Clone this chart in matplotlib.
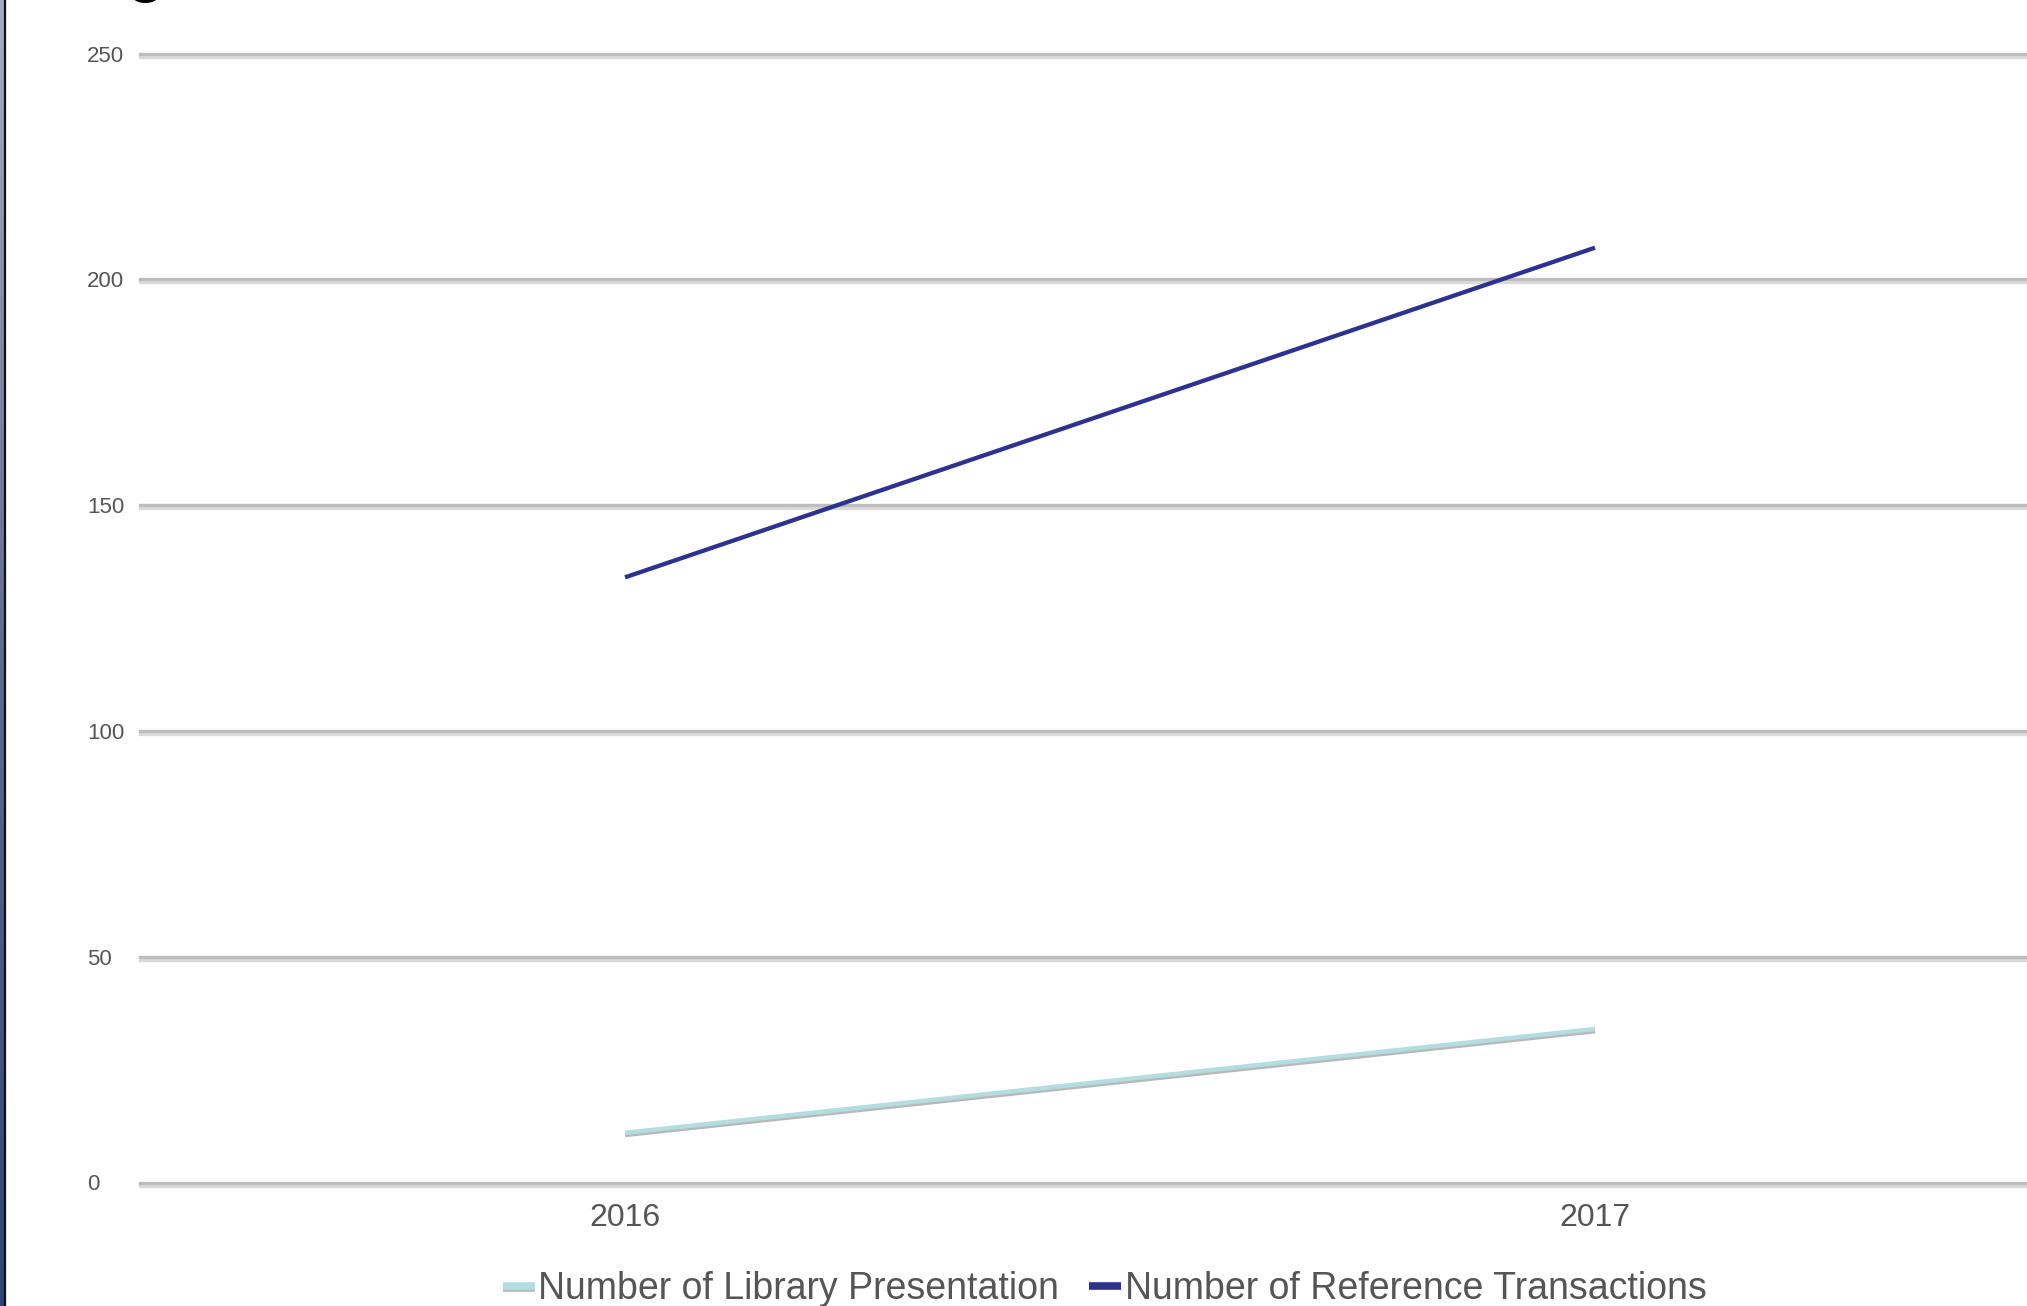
import numpy as np
import matplotlib
matplotlib.use("Agg")
import matplotlib.pyplot as plt
import matplotlib.patheffects as pe
from matplotlib.colors import LinearSegmentedColormap

plt.rcParams['font.family'] = ['Liberation Sans', 'DejaVu Sans']

# ---- data ----
years = ['2016', '2017']
library_presentations = [11, 34]
reference_transactions = [134, 207]
y_ticks = [0, 50, 100, 150, 200, 250]

W, H = 2027, 1306
DPI = 100
fig = plt.figure(figsize=(W / DPI, H / DPI), dpi=DPI, facecolor='white')

# plot area runs past the right edge (the reference is cropped)
ax = fig.add_axes([140 / W, 1 - 1182.5 / H, 1940 / W, (1182.5 - 53.5) / H])
x = np.arange(len(years))

shadow = [pe.SimpleLineShadow(offset=(0, -1.6), shadow_color='#9a9a9a', alpha=0.7), pe.Normal()]
ax.plot(x, library_presentations, color='#b3dde1', lw=3.2, solid_capstyle='butt',
        path_effects=shadow, label='Number of Library Presentation', zorder=3)
ax.plot(x, reference_transactions, color='#2f3191', lw=3.1, solid_capstyle='butt',
        label='Number of Reference Transactions', zorder=4)

ax.set_xlim(-0.5, 1.5)
ax.set_ylim(0, 250)
ax.set_xticks(x)
ax.set_xticklabels(years, fontsize=23, color='#555555')
ax.set_yticks(y_ticks)
ax.set_yticklabels([str(v) for v in y_ticks], fontsize=16, color='#555555')
for lab in ax.get_yticklabels():
    lab.set_ha('left')
ax.tick_params(axis='y', length=0, pad=38)
ax.tick_params(axis='x', length=0, pad=15)

for s in ax.spines.values():
    s.set_visible(False)
ax.grid(axis='y', color='#bdbdbd', lw=2.4)
ax.set_axisbelow(True)
for gl in ax.get_ygridlines():
    gl.set_path_effects([pe.SimpleLineShadow(offset=(0, -2.2), shadow_color='#dadada', alpha=1.0),
                         pe.Normal()])
    gl.set_clip_on(False)

leg = fig.legend(loc='center', bbox_to_anchor=(0.545, 0.013), ncol=2, frameon=False,
                 fontsize=27, handlelength=0.85, handletextpad=0.1, columnspacing=0.8,
                 borderpad=0)
for t in leg.get_texts():
    t.set_color('#555555')
for h in leg.get_lines():
    h.set_linewidth(5.5)

# left border: gradient strip with a dark edge
bax = fig.add_axes([0, 0, 4.5 / W, 1])
cmap = LinearSegmentedColormap.from_list('edge', ['#a9adc2', '#606b92', '#2f4476'])
bax.imshow(np.linspace(0, 1, 256)[:, None], aspect='auto', cmap=cmap)
bax.axis('off')
fig.add_artist(plt.Line2D([5 / W, 5 / W], [0, 1], color='#111111', lw=1.6))

# bottom of a title letter cut off by the crop
fig.text(126 / W, 1 + 12 / H, 'g', fontsize=52, color='black', va='baseline', ha='left')

fig.savefig('out.png', dpi=DPI, facecolor='white')
